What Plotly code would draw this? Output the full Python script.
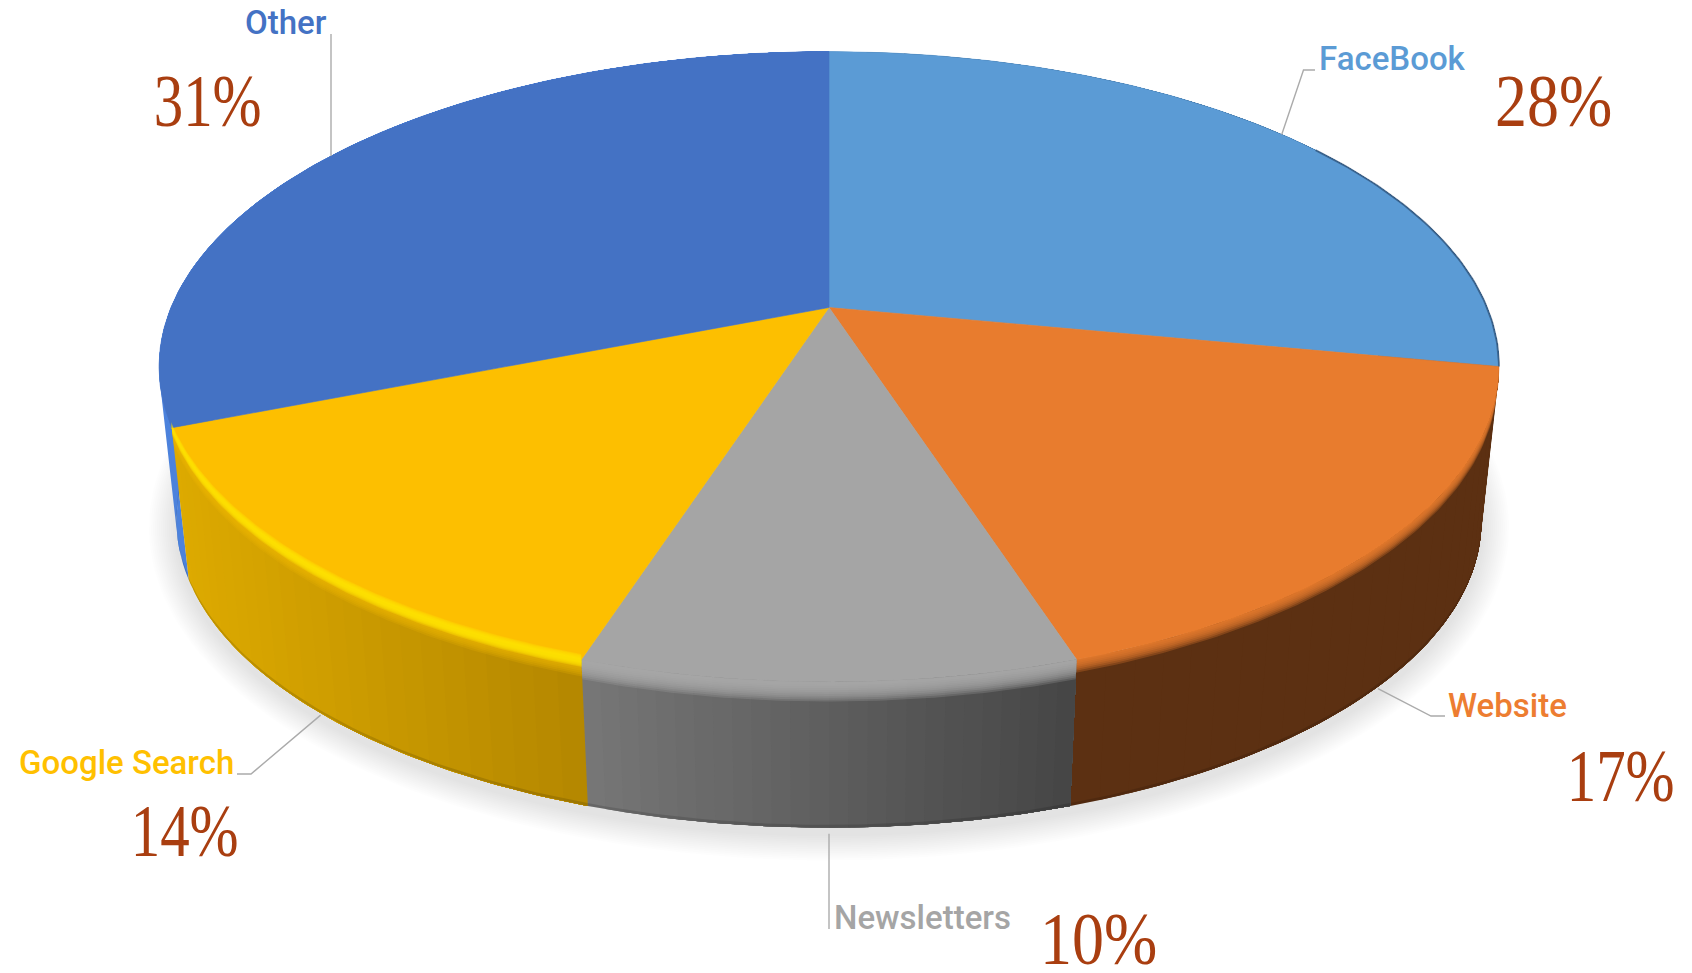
import numpy as np
import plotly.graph_objects as go

# ---- data ----
categories = ["FaceBook", "Website", "Newsletters", "Google Search", "Other"]
shares = [28, 17, 10, 14, 31]
pct_labels = ["28%", "17%", "10%", "14%", "31%"]

# ---- styling ----
top_colors = ["#5B9BD5", "#E87C2E", "#A5A5A5", "#FDBF00", "#4472C4"]
text_colors = ["#5B9BD5", "#ED7D31", "#A5A5A5", "#FFC000", "#4472C4"]
side_left = ["#3B6A94", "#5C3012", "#767676", "#DDAA00", "#4C82DC"]
side_right = ["#2F5578", "#5C3012", "#454545", "#B38600", "#3D6CB8"]
# soft rim: (rgb, first depth, last depth, step, alpha) as nested ribbons
rim_soft = [
    None,
    ("232,124,46", 2, 14, 2, 0.28),
    ("172,172,172", 3, 21, 2, 0.24),
    ("236,184,0", 6, 18, 2, 0.22),
    ("80,135,225", 2, 6, 2, 0.4),
]
pct_color = "#A93E10"

# ---- projection of the pie (perspective view of a disc) ----
CX, CY, A, B, K = 829.0, 307.5, 658.0, 304.0, 0.188
CY2, SCALE = 463.0, 0.974


def project(theta, depth=0.0):
    """theta in degrees clockwise from 12 o'clock, depth 0..1 from top to bottom face."""
    t = np.radians(theta)
    u, v = np.sin(t), -np.cos(t)
    den = 1 - K * v
    s = 1 + (SCALE - 1) * depth
    y0 = CY + (CY2 - CY) * depth
    return CX + s * A * u / den, y0 + s * B * v / den


HEIGHT_PX = CY2 - CY


def hex2rgb(h):
    return np.array([int(h[i:i + 2], 16) for i in (1, 3, 5)], float)


def poly(fig, xs, ys, color, line=0.0):
    fig.add_trace(go.Scatter(x=list(xs), y=list(ys), mode="lines", fill="toself",
                             fillcolor=color,
                             line=dict(color=color, width=line),
                             hoverinfo="skip", showlegend=False))


def ribbon(fig, arc, d0, d1, color):
    xt, yt = project(arc, d0 / HEIGHT_PX)
    xb, yb = project(arc, d1 / HEIGHT_PX)
    poly(fig, np.r_[xt, xb[::-1]], np.r_[yt, yb[::-1]], color)


fig = go.Figure()

# soft shadow below the disc
phi = np.linspace(0, 360, 241)
for grow in np.arange(28, 0, -2):
    x, y = project(phi, 1.0)
    xc, yc = CX, CY2 + 59
    xs = xc + (x - xc) * (1 + grow / 660)
    ys = yc + (y - yc) * (1 + grow / 330) + 7
    poly(fig, xs, ys, "rgba(0,0,0,0.0085)")

edges = np.concatenate([[0], np.cumsum(shares)]) * 3.6

# side wall, back towards the front; each strip runs on to the slice's end so no seams show
order = [4, 0, 3, 1, 2]
for i in order:
    a0, a1 = edges[i], edges[i + 1]
    n = 26
    steps = np.linspace(a0, a1, n + 1)
    c0, c1 = hex2rgb(side_left[i]), hex2rgb(side_right[i])
    ends = np.array(project(np.array([a0, a1]), 0)[0])
    lo, hi = ends.min(), ends.max()
    # strips are laid from left to right on screen
    seq = steps if ends[0] < ends[1] else steps[::-1]
    last = seq[-1]
    for j in range(n):
        sa = np.linspace(seq[j], last, max(2, (n - j) * 3))
        xt, yt = project(sa, 0)
        xb, yb = project(sa, 1)
        f = (xt[0] - lo) / (hi - lo) if hi > lo else 0
        c = c0 + (c1 - c0) * f
        poly(fig, np.r_[xt, xb[::-1]], np.r_[yt, yb[::-1]], "rgb(%d,%d,%d)" % tuple(c))
    arc = np.linspace(a0, a1, 60)
    ribbon(fig, arc, HEIGHT_PX - 3, HEIGHT_PX, "rgba(0,0,0,0.13)")

# soft rim at the top of the wall
for i in order:
    if rim_soft[i] is None:
        continue
    rgb, first, last, step, alpha = rim_soft[i]
    arc = np.linspace(edges[i], edges[i + 1], 80)
    for d in range(first, last + 1, step):
        ribbon(fig, arc, 0, d, "rgba(%s,%.3f)" % (rgb, alpha))

# top faces
for i in range(len(shares)):
    arc = np.linspace(edges[i], edges[i + 1], 160)
    x, y = project(arc, 0)
    poly(fig, np.r_[CX, x, CX], np.r_[CY, y, CY], top_colors[i], line=0.6)

# bright edge of the yellow slice, straddling its rim
gold = list(categories).index("Google Search")
arc = np.linspace(edges[gold], edges[gold + 1], 100)
for half in (7, 6, 5, 4, 3, 2):
    ribbon(fig, arc, 1 - half, 1 + half, "rgba(255,228,0,0.3)")

# thin dark edge along the far right of the FaceBook slice
fb = list(categories).index("FaceBook")
arc = np.linspace(edges[fb] + 55, edges[fb + 1], 60)
x, y = project(arc, 0)
fig.add_trace(go.Scatter(x=x, y=y, mode="lines", line=dict(color="rgba(40,70,105,0.6)", width=2),
                         hoverinfo="skip", showlegend=False))

# label placement (elbow point, label start, percentage box)
elbow_pts = {"FaceBook": (1303.5, 70), "Website": (1431, 716), "Newsletters": (829, 929),
             "Google Search": (251, 774), "Other": (331, 34)}
stub_pts = {"FaceBook": (1315, 70), "Website": (1445, 716), "Newsletters": None,
            "Google Search": (237, 774), "Other": None}
label_pos = {"FaceBook": (1317, "left", 70), "Website": (1446, "left", 717), "Newsletters": (832, "left", 929),
             "Google Search": (236, "right", 774), "Other": (329, "right", 34)}
pct_pos = {"28%": (1553, 129), "17%": (1620, 804), "10%": (1098, 967), "14%": (184, 859), "31%": (207, 129)}

annotations = []
for i, name in enumerate(categories):
    mid = (edges[i] + edges[i + 1]) / 2
    front = np.cos(np.radians(mid)) < 0
    sx, sy = project(mid, 1.0 if front else 0.0)
    if front:
        sy += 6 if name == "Newsletters" else 2
    ex, ey = elbow_pts[name]
    if stub_pts[name] is None:      # straight vertical leader
        sy += 3 if name == "Other" else 0
        sx = ex
    xs, ys = [float(sx), ex], [float(sy), ey]
    if stub_pts[name]:
        xs.append(stub_pts[name][0])
        ys.append(stub_pts[name][1])
    fig.add_trace(go.Scatter(x=xs, y=ys, mode="lines", line=dict(color="#ABABAB", width=1.4),
                             hoverinfo="skip", showlegend=False))
    lx, anc, base = label_pos[name]
    annotations.append(dict(x=lx, y=base - 11.5, xref="x", yref="y", text=name, showarrow=False,
                            xanchor=anc, yanchor="middle",
                            font=dict(family="Roboto", weight=500, size=33, color=text_colors[i])))
    px_, pb = pct_pos[pct_labels[i]]
    annotations.append(dict(x=px_, y=pb - 25, xref="x", yref="y", text=pct_labels[i], showarrow=False,
                            xanchor="center", yanchor="middle",
                            font=dict(family="Liberation Serif", size=64, color=pct_color)))

fig.update_layout(
    width=1692, height=973, autosize=False,
    margin=dict(l=0, r=0, t=0, b=0),
    paper_bgcolor="white", plot_bgcolor="white",
    xaxis=dict(range=[0, 1692], visible=False, fixedrange=True),
    yaxis=dict(range=[973, 0], visible=False, fixedrange=True),
    annotations=annotations,
    showlegend=False,
)
# percentages in the reference use a tall, narrow serif: stretch the real text about its baseline
post = """
document.body.style.margin='0';
document.querySelectorAll('.annotation-text').forEach(function(t){
  if(!/%$/.test(t.textContent)) return;
  var b=t.getBBox(), cx=b.x+b.width/2, by=parseFloat(t.getAttribute('y'))||0;
  var sx=/^(28|10)/.test(t.textContent)?1.0:0.92;
  t.setAttribute('transform','translate('+cx+','+by+') scale('+sx+',1.15) translate('+(-cx)+','+(-by)+')');
});
"""
fig.write_html("out.html", config=dict(displayModeBar=False), post_script=post)
